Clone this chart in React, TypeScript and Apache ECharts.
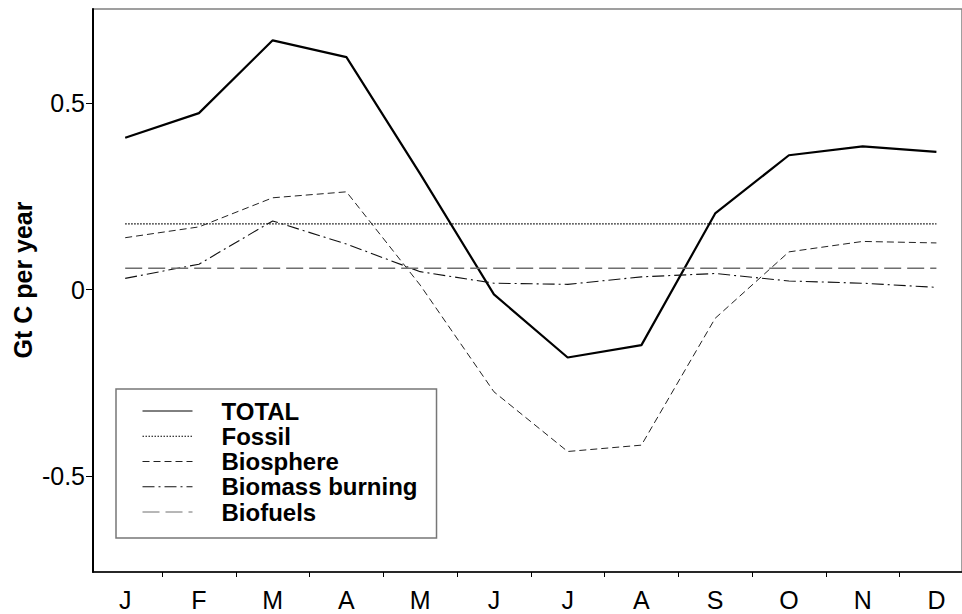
import React, { useEffect, useRef } from "react";
import * as echarts from "echarts";

const months = ["J", "F", "M", "A", "M", "J", "J", "A", "S", "O", "N", "D"];
const total = [0.407, 0.473, 0.668, 0.623, 0.31, -0.013, -0.182, -0.149, 0.204, 0.36, 0.384, 0.369];
const fossil = [0.176, 0.176, 0.176, 0.176, 0.176, 0.176, 0.176, 0.176, 0.176, 0.176, 0.176, 0.176];
const biosphere = [0.139, 0.168, 0.246, 0.262, 0.012, -0.274, -0.434, -0.417, -0.077, 0.101, 0.129, 0.125];
const biomassBurning = [0.03, 0.068, 0.184, 0.122, 0.048, 0.017, 0.014, 0.034, 0.043, 0.023, 0.017, 0.006];
const biofuels = [0.057, 0.057, 0.057, 0.057, 0.057, 0.057, 0.057, 0.057, 0.057, 0.057, 0.057, 0.057];
const yTicks = [-0.5, 0, 0.5];
const yTitle = "Gt C per year";

const FONT = "'Liberation Sans', Arial, Helvetica, sans-serif";

const toPairs = (arr: number[]) => arr.map((v, i) => [i + 1, v]);

export default function App() {
  const ref = useRef<HTMLDivElement>(null);
  useEffect(() => {
    if (!ref.current) return;
    const chart = echarts.init(ref.current, null, { renderer: "svg" });
    const monthPos = months.map((_, i) => i + 1);
    const tickPos = months.slice(1).map((_, i) => i + 1.5);
    const mk = (name: string, data: number[], color: string, width: number, type: any) => ({
      name,
      type: "line",
      data: toPairs(data),
      symbol: "none",
      showSymbol: false,
      lineStyle: { color, width, type },
      itemStyle: { color },
      z: 2,
    });
    chart.setOption({
      animation: false,
      backgroundColor: "#ffffff",
      grid: {
        left: 93,
        right: -3,
        top: 9,
        bottom: 42,
        show: true,
        borderColor: "#808080",
        borderWidth: 1.5,
        backgroundColor: "transparent",
      },
      xAxis: {
        type: "value",
        min: 0.5635,
        max: 12.347,
        axisLine: { show: true, onZero: false, lineStyle: { color: "#000", width: 1.5 } },
        axisTick: {
          show: true,
          customValues: tickPos,
          length: 5,
          lineStyle: { color: "#000", width: 1 },
        },
        axisLabel: {
          customValues: monthPos,
          formatter: (v: number) => months[Math.round(v) - 1] ?? "",
          color: "#000",
          fontFamily: FONT,
          fontSize: 25,
          margin: 15,
        },
        splitLine: { show: false },
      },
      yAxis: {
        type: "value",
        min: -0.757,
        max: 0.752,
        axisLine: { show: true, onZero: false, lineStyle: { color: "#000", width: 2 } },
        axisTick: {
          show: true,
          customValues: yTicks,
          length: 7,
          lineStyle: { color: "#000", width: 1 },
        },
        axisLabel: {
          customValues: yTicks,
          formatter: (v: number) => (v === 0 ? "0" : String(v)),
          color: "#000",
          fontFamily: FONT,
          fontSize: 25,
          margin: 8,
        },
        splitLine: { show: false },
      },
      legend: {
        orient: "vertical",
        left: 116,
        top: 389,
        padding: [10, 19, 14, 26],
        itemGap: 1.25,
        itemWidth: 50,
        itemHeight: 14,
        borderColor: "#777",
        borderWidth: 1.5,
        backgroundColor: "#fff",
        itemStyle: { opacity: 0 },
        lineStyle: { width: 1 },
        textStyle: {
          fontFamily: FONT,
          fontSize: 24,
          fontWeight: "bold",
          color: "#000",
          lineHeight: 24,
          padding: [0, 0, 0, 24],
        },
        data: ["TOTAL", "Fossil", "Biosphere", "Biomass burning", "Biofuels"],
      },
      graphic: [
        {
          type: "text",
          x: 23,
          y: 280,
          rotation: Math.PI / 2,
          style: {
            text: yTitle,
            fontFamily: FONT,
            fontSize: 25,
            fontWeight: "bold",
            fill: "#000",
            align: "center",
            verticalAlign: "middle",
          },
        },
      ],
      series: [
        mk("TOTAL", total, "#000", 2.2, "solid"),
        mk("Fossil", fossil, "#000", 1.2, [1.5, 1.5]),
        mk("Biosphere", biosphere, "#222", 1, [7, 4]),
        mk("Biomass burning", biomassBurning, "#111", 1.1, [12, 4, 2, 4]),
        mk("Biofuels", biofuels, "#6e6e6e", 1.6, [17, 6]),
      ],
    });
    return () => chart.dispose();
  }, []);
  return (
    <div
      ref={ref}
      style={{ position: "fixed", left: 0, top: 0, width: 962, height: 614, background: "#fff" }}
    />
  );
}
